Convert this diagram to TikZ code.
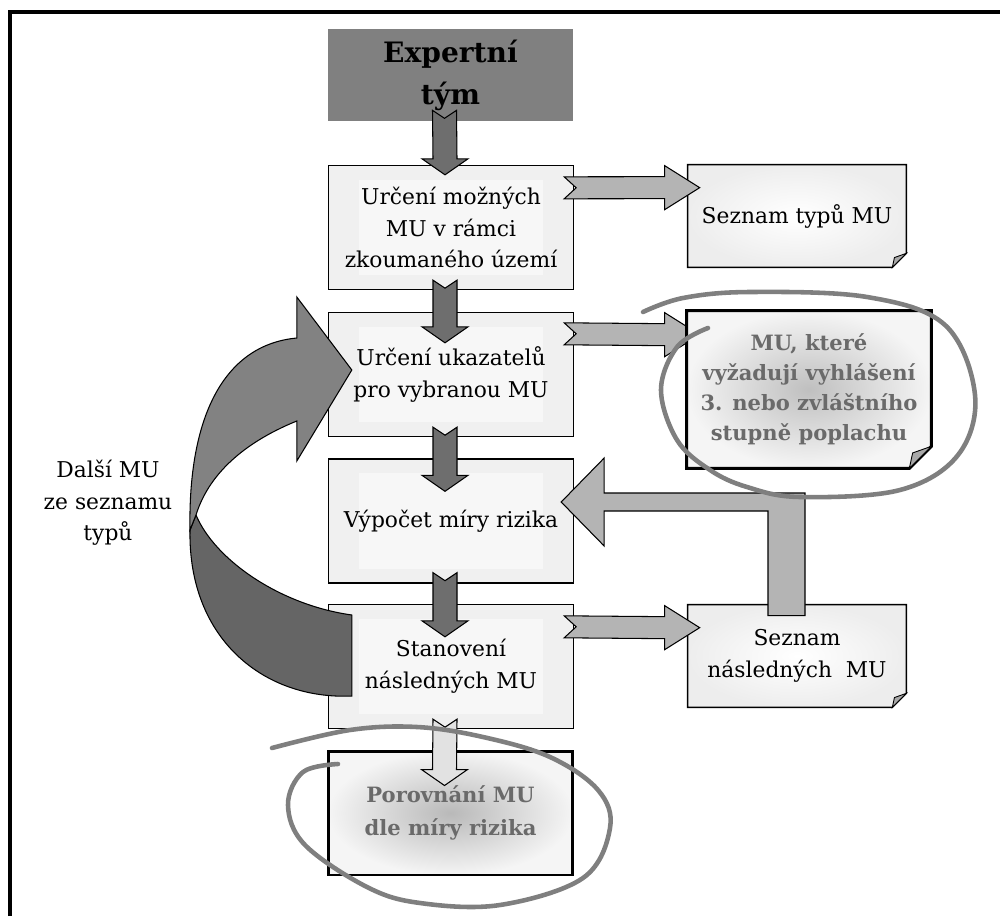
\documentclass[tikz,border=0pt]{standalone}
\usepackage{fontspec}
\setmainfont{DejaVu Serif}
\usetikzlibrary{calc}

\definecolor{expgray}{HTML}{808080}
\definecolor{boxgray}{HTML}{F0F0F0}
\definecolor{innergray}{HTML}{F7F7F7}
\definecolor{darkarrow}{HTML}{6E6E6E}
\definecolor{lightarrow}{HTML}{B4B4B4}
\definecolor{palearrow}{HTML}{E2E2E2}
\definecolor{curveup}{HTML}{828282}
\definecolor{curvelow}{HTML}{656565}
\definecolor{ringgray}{HTML}{7F7F7F}
\definecolor{foldgray}{HTML}{A8A8A8}
\definecolor{textgray}{HTML}{6A6A6A}

\tikzset{
  stepbox/.style={draw, line width=0.8pt, fill=boxgray, minimum width=4.9cm,
    minimum height=2.48cm, align=center, font=\fontsize{12.4}{18}\selectfont,
    path picture={\fill[innergray] ($(path picture bounding box.south west)+(30,-14)$)
      rectangle ($(path picture bounding box.north east)+(-30,14)$);}},
  resultbox/.style={line width=1.7pt, inner color=gray!55, outer color=gray!8,
    text=textgray, font=\bfseries\fontsize{12}{19}\selectfont, path picture={}},
  expbox/.style={fill=expgray, minimum width=4.9cm, minimum height=1.84cm,
    align=center, font=\bfseries\fontsize{16}{24}\selectfont},
  notebox/.style={inner sep=0pt},
  notetext/.style={align=center, font=\fontsize{12.4}{18}\selectfont},
  blockedge/.style={draw=black, line width=0.6pt, line join=miter},
  handring/.style={draw=ringgray, line width=2.6pt, line cap=round, line join=round},
}

% notched block arrow pointing down
\newcommand{\downblock}[3]{%
  \coordinate (bt) at ($#1$);
  \coordinate (bh) at ($#2$);
  \filldraw[blockedge, fill=#3] ($(bt)+(-12,0)$) -- ($(bt)+(0,8)$) -- ($(bt)+(12,0)$)
    -- ($(bh)+(12,-16)$) -- ($(bh)+(23,-16)$) -- (bh) -- ($(bh)+(-23,-16)$)
    -- ($(bh)+(-12,-16)$) -- cycle;}
% notched block arrow pointing right
\newcommand{\rightblock}[3]{%
  \coordinate (bt) at ($#1$);
  \coordinate (bh) at ($#2$);
  \filldraw[blockedge, fill=#3] ($(bt)+(0,-11)$) -- ($(bh)+(-35,-11)$) -- ($(bh)+(-35,-22)$)
    -- (bh) -- ($(bh)+(-35,22)$) -- ($(bh)+(-35,11)$) -- ($(bt)+(0,11)$)
    -- ($(bt)+(12,0)$) -- cycle;}
% sheet with folded corner
\newcommand{\notepaper}[4]{%
  \shadedraw[#4] (#1.north west) -- (#1.north east) -- ($(#1.south east)+(0,-#2)$)
    -- ($(#1.south east)+(-#2,0)$) -- (#1.south west) -- cycle;
  \filldraw[fill=foldgray, line width=0.5pt] ($(#1.south east)+(0,-#2)$)
    -- ($(#1.south east)+(-#2,0)$) -- ($(#1.south east)+(-0.85*#2,-0.7*#2)$) -- cycle;}

\begin{document}
\begin{tikzpicture}[x=0.02cm, y=-0.02cm]
    \useasboundingbox (0,0) rectangle (1000,916);
    \draw[line width=2.3pt] (10,916) -- (10,12) -- (1000,12);

    \node[expbox] (exp) at (450.5,75) {Expertní\\tým};
    \node[stepbox] (b1) at (451,227.5) {Určení možných\\MU v rámci\\zkoumaného území};
    \node[stepbox] (b2) at (451,374.5) {Určení ukazatelů\\pro vybranou MU};
    \node[stepbox] (b3) at (451,521) {Výpočet míry rizika};
    \node[stepbox] (b4) at (451,666.5) {Stanovení\\následných MU};
    \node[stepbox, resultbox] (b5) at (450.5,813) {Porovnání MU\\dle míry rizika};

    \node[notebox, minimum width=4.36cm, minimum height=2.04cm] (st1) at (797,216) {};
    \node[notebox, minimum width=4.36cm, minimum height=2.04cm] (st2) at (797,656) {};
    \node[notebox, minimum width=4.88cm, minimum height=3.14cm] (mu) at (809,389.5) {};

    \notepaper{st1}{14}{0.8pt}{inner color=white, outer color=gray!14, line width=0.8pt}
    \notepaper{st2}{14}{0.8pt}{inner color=white, outer color=gray!14, line width=0.8pt}

    \downblock{(exp.south)+(-6,-11)}{(b1.north)+(-6,10)}{darkarrow}
    \downblock{(b1.south)+(-6,-10)}{(b2.north)+(-6,31)}{darkarrow}
    \downblock{(b2.south)+(-6,-10)}{(b3.north)+(-6,33)}{darkarrow}
    \downblock{(b3.south)+(-6,-11)}{(b4.north)+(-6,33)}{darkarrow}
    \downblock{(b4.south)+(-6,-10)}{(b5.north)+(-6,36)}{palearrow}

    \rightblock{(b1.north east)+(-10,23)}{(st1.north west)+(12,23)}{lightarrow}
    \rightblock{(b4.north east)+(-10,23)}{(st2.north west)+(12,23)}{lightarrow}
    \rightblock{(b2.north east)+(-10,22)}{(mu.north west)+(13,24)}{lightarrow}

    \notepaper{mu}{22}{1.7pt}{inner color=gray!50, outer color=gray!8, line width=1.7pt}

    \node[notetext] (st1t) at (st1.center) {Seznam typů MU};
    \node[notetext] (st2t) at (st2.center) {Seznam\\následných~ MU};
    \node[notetext, text=textgray, font=\bfseries\fontsize{12}{17}\selectfont] (mut)
        at (mu.center) {MU, které\\vyžadují vyhlášení\\3. nebo zvláštního\\stupně poplachu};

    % feedback arrow from the list of follow-up MU
    \coordinate (fb) at ($(st2.north)+(-10.5,11)$);
    \coordinate (fh) at ($(b3.east)+(-13,-19)$);
    \coordinate (fr) at ($(fb)+(18.5,0)$);
    \coordinate (fl) at ($(fb)+(-18.5,0)$);
    \coordinate (fu) at ($(fh)+(0,-9)$);
    \coordinate (fd) at ($(fh)+(0,9)$);
    \filldraw[blockedge, fill=lightarrow] (fl) -- (fr) -- (fr |- fu) -- ($(fh)+(43,-9)$)
        -- ($(fh)+(43,-44)$) -- (fh) -- ($(fh)+(43,44)$) -- ($(fh)+(43,9)$) -- (fl |- fd) -- cycle;

    % curved arrow back to the indicator box
    \coordinate (ct) at ($(b4.west)+(24,-11)$);
    \coordinate (ch) at ($(b2.west)+(24,-4.5)$);
    \filldraw[blockedge, fill=curvelow] (196,515) .. controls (215,560) and (280,605) .. ($(ct)+(0,-40.5)$)
        -- ($(ct)+(0,40.5)$) .. controls (265,700) and (188,640) .. (190,530) -- cycle;
    \filldraw[blockedge, fill=curveup] (190,530) .. controls (188,420) and (222,345) .. ($(ch)+(-55,-32)$)
        -- ($(ch)+(-55,-73)$) -- (ch) -- ($(ch)+(-55,91)$) -- ($(ch)+(-55,51)$)
        .. controls (250,440) and (210,470) .. (196,515) -- cycle;
    \node[notetext] (dalsi) at (108,503) {Další MU\\ze seznamu\\typů};

    % hand drawn rings
    \draw[handring] plot[smooth, tension=0.6] coordinates {(643,312) (683,298) (750,292) (867,297)
        (945,325) (975,395) (958,455) (900,490) (800,497) (747,487) (710,470) (677,440) (661,390)
        (677,347) (708,328)};
    \draw[handring] plot[smooth, tension=0.6] coordinates {(272,748) (350,730) (417,727) (483,737)
        (550,757) (598,790) (610,828) (583,878) (500,905) (420,903) (367,887) (305,845) (288,805)
        (303,772) (338,764)};
\end{tikzpicture}
\end{document}
